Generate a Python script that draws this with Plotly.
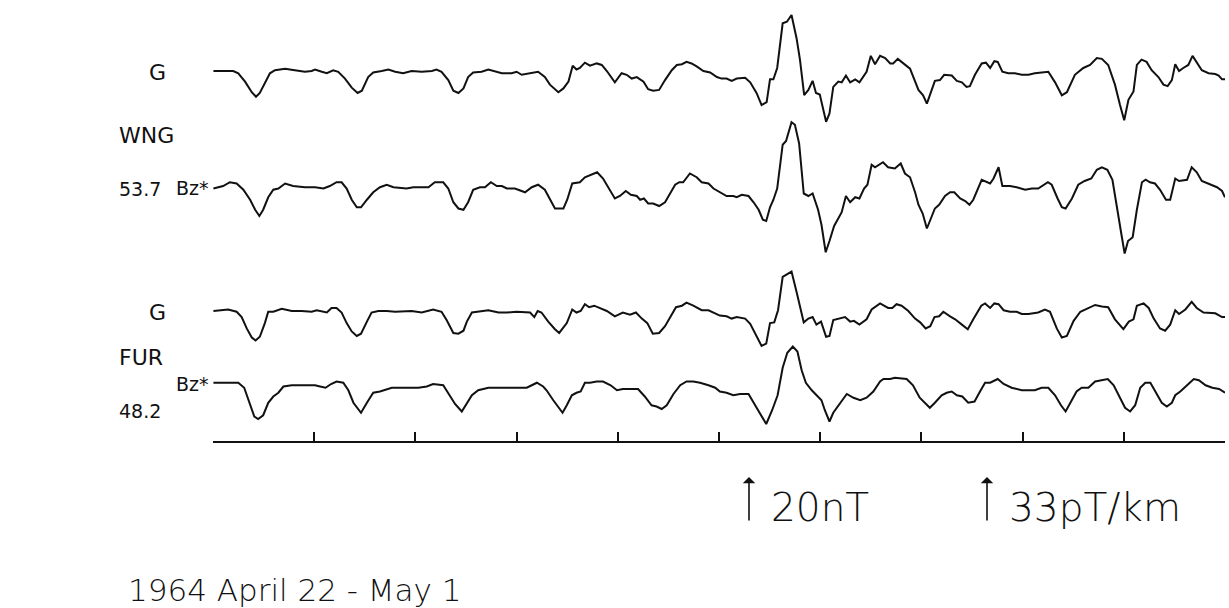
import plotly.graph_objects as go

# time in hours from 1964-04-22 00:00 UT; values: G in pT/km, Bz* in nT (relative units as plotted)
wng_g_t = [0.1,4.8,6.0,7.6,9.2,10.2,11.1,12.3,13.5,14.7,17.1,19.4,21.8,23.4,24.2,25.8,27.0,28.5,29.7,31.3,32.9,34.3,35.3,36.8,38.0,40.0,41.6,43.2,45.1,47.1,49.5,51.9,53.0,54.2,55.8,57.0,58.2,59.4,60.5,61.7,63.7,65.3,66.9,68.5,70.8,72.0,73.2,75.2,77.1,
           78.7,79.9,81.9,83.1,84.3,85.3,86.2,87.0,88.2,89.4,91.0,92.2,93.4,95.3,96.9,98.1,99.3,100.5,102.1,103.2,104.4,105.8,107.2,108.8,110.0,111.2,112.3,113.5,114.7,116.3,117.9,119.5,120.6,121.8,123.0,124.2,126.2,127.4,128.9,130.1,131.3,132.1,132.9,133.8,135.1,136.1,137.2,138.4,139.2,140.2,141.2,142.2,143.0,143.9,145.4,146.2,147.1,148.3,149.1,150.1,151.1,152.3,153.3,154.2,155.0,156.0,157.0,
           158.2,159.4,160.6,161.3,162.4,163.7,165.3,167.3,168.4,169.3,171.2,172.4,173.4,175.2,176.4,177.6,178.7,179.5,180.7,182.3,183.3,184.3,185.3,186.1,187.2,188.6,190.2,191.8,193.4,194.9,196.5,198.1,199.7,201.3,202.5,204.4,206.4,208.0,209.6,210.8,212.3,213.9,215.1,216.1,217.1,218.3,219.1,220.2,221.4,222.6,224.2,225.4,226.4,227.4,228.2,229.1,230.1,231.3,232.3,233.3,234.5,236.1,237.7,238.5,239.3,240.0]
wng_g_v = [0,0,-3,-14,-28,-34,-29,-16,-3,1,3,1,-1,0,2,-1,-3,1,-1,-10,-22,-29,-26,-8,-2,0,2,-1,-3,0,-1,0,2,-1,-12,-26,-29,-23,-8,-2,-1,2,0,-3,-3,-1,-5,-3,-1,
           -8,-18,-28,-23,-14,7,2,4,11,7,10,8,0,-15,-3,-5,-10,-8,-14,-24,-26,-25,-12,1,8,9,12,10,6,0,-2,-8,-10,-10,-13,-10,-9,-15,-29,-45,-41,-11,-11,4,63,65,74,43,15,-32,-25,-13,-29,-31,-67,-56,-21,-14,-15,-6,-15,-11,-15,-7,-1,20,9,
           20,17,10,10,16,10,3,-25,-32,-43,-13,-12,-5,-6,-13,-15,-21,-20,-5,10,11,4,13,12,-1,-3,-3,-5,-5,-3,-2,-1,-15,-32,-28,-5,4,8,17,16,8,-18,-45,-65,-38,-27,8,15,12,1,-8,-18,-20,-12,9,0,4,8,20,11,1,-3,-4,-6,-11,-11]

wng_bz_t = [0.1,1.3,2.4,4.0,5.6,7.2,8.8,10.0,11.0,11.9,13.1,14.3,15.5,17.1,19.0,21.8,24.2,26.2,27.7,29.3,30.5,31.7,32.9,34.1,35.1,36.5,38.0,39.6,41.2,42.8,45.9,47.5,51.1,52.6,54.6,55.8,57.0,58.2,59.4,60.5,61.7,63.3,64.5,65.9,67.3,68.5,69.7,71.6,74.0,75.6,77.1,
            78.7,79.9,81.1,83.1,84.0,85.2,87.0,88.2,89.8,91.1,92.5,94.1,95.3,96.5,97.9,99.1,100.5,101.3,102.2,103.2,104.4,105.8,107.2,108.4,109.6,110.6,111.5,113.1,114.7,115.9,117.5,118.7,120.2,121.8,123.4,124.2,125.4,127.0,128.2,129.4,130.4,131.2,132.1,132.9,133.8,135.1,135.9,137.2,138.0,139.0,140.1,141.2,142.2,143.5,144.3,145.3,146.2,147.3,149.1,150.1,151.1,152.3,153.3,154.4,155.2,156.2,157.0,
            158.9,160.1,161.7,163.1,164.1,165.3,166.5,167.3,168.3,169.3,170.3,171.2,172.2,173.6,174.8,175.8,177.2,178.4,179.4,180.3,182.3,184.3,185.1,186.3,187.2,189.0,190.6,192.6,194.2,195.7,198.0,198.9,200.3,201.3,202.2,203.7,205.2,206.7,208.3,209.6,210.8,212.1,213.3,214.4,215.4,216.2,217.0,218.1,219.1,220.3,221.2,222.2,223.4,224.6,226.0,227.0,228.2,229.1,231.0,232.1,233.3,234.5,236.1,238.1,239.3,240.0]
wng_bz_v = [-2,-1,0,3,2,-3,-11,-19,-24,-19,-9,-3,-2,2,0,-1,-1,-2,0,3,3,-2,-11,-17,-17,-11,-5,-1,1,-1,-2,-1,-1,3,3,-2,-13,-18,-19,-13,-3,-1,-1,3,0,0,-2,-2,-5,-1,1,
            -3,-11,-18,-18,-11,2,3,7,9,11,6,-3,-10,-8,-4,-7,-8,-11,-10,-14,-14,-16,-13,-6,1,3,3,10,7,3,2,-2,-5,-8,-8,-9,-7,-8,-13,-19,-27,-28,-17,-11,-2,33,36,51,49,34,-6,-8,-6,-19,-31,-53,-44,-32,-21,-8,-13,-9,-10,-2,1,17,15,
            19,15,14,18,10,7,-5,-15,-22,-34,-25,-18,-15,-8,-5,-5,-10,-12,-15,-11,5,2,6,15,0,0,-1,-3,-2,-2,3,1,-10,-17,-18,-10,1,4,6,13,15,13,5,-19,-38,-54,-44,-41,-19,3,5,3,2,-3,-11,-11,6,4,5,15,11,4,2,-1,-4,-9]

fur_g_t = [0.1,3.6,5.6,6.8,8.0,9.2,10.1,11.1,12.3,13.1,14.3,16.3,18.7,21.0,23.4,24.6,27.0,28.1,29.3,30.5,31.7,32.9,34.1,35.1,36.5,37.6,39.2,41.2,43.2,45.5,47.1,49.5,52.2,54.2,55.4,57.0,58.2,59.4,60.2,61.4,62.9,65.3,67.7,69.7,72.0,75.2,76.2,77.0,77.9,
           79.5,81.1,82.1,83.9,85.2,86.2,87.2,88.2,89.2,90.4,91.8,93.4,95.3,97.2,98.9,100.3,101.7,103.0,104.3,105.8,107.2,108.5,109.8,111.2,112.3,113.9,115.9,117.5,118.7,120.2,121.8,123.0,124.2,126.2,127.4,128.8,130.1,131.2,132.1,133.1,134.0,135.1,136.1,137.2,138.4,139.2,140.1,141.2,142.2,143.1,144.2,145.4,146.2,147.1,148.3,149.9,151.1,152.0,153.3,155.0,156.2,
           158.2,160.1,161.1,162.1,163.3,164.9,166.5,167.7,169.0,170.1,171.1,172.2,173.2,174.8,176.0,177.6,179.0,180.3,182.2,183.1,184.3,185.3,186.3,187.5,189.0,190.6,191.8,193.4,195.7,197.3,198.5,200.1,201.3,202.5,204.1,205.7,207.3,209.2,210.8,212.3,213.9,215.9,217.2,218.3,219.1,220.7,221.9,223.1,224.6,225.8,227.0,228.2,229.1,230.6,232.1,233.3,234.9,236.5,237.7,239.3,240.0]
fur_g_v = [0,2,-1,-8,-23,-35,-39,-34,-16,-1,-1,3,0,0,-1,1,-2,4,4,-2,-16,-27,-33,-30,-14,-2,0,0,-1,0,0,-2,2,-1,-12,-29,-30,-26,-14,-2,-1,1,-2,-2,-1,-2,-8,0,-2,
           -14,-24,-29,-16,2,-2,0,9,5,7,4,0,-7,-2,-5,-2,-10,-16,-30,-29,-20,-8,5,7,11,7,1,1,-2,-6,-7,-10,-8,-10,-17,-32,-46,-43,-16,-15,1,45,48,52,25,6,-15,-10,-8,-18,-14,-34,-33,-12,-10,-8,-14,-13,-18,-11,2,
           10,4,4,9,7,0,-10,-15,-23,-20,-8,-7,-1,-7,-11,-18,-24,-11,7,10,4,10,9,1,-1,-1,-4,-4,-2,2,-1,-23,-35,-33,-13,-1,3,8,6,5,-11,-24,-14,-11,7,10,4,-10,-23,-26,-18,1,-4,2,12,4,-2,-3,-3,-8,-8]

fur_bz_t = [0.1,3.2,4.4,6.0,7.4,8.6,9.8,10.7,11.9,13.1,14.3,15.5,16.7,18.7,21.8,24.2,25.4,26.7,28.0,29.3,30.9,32.1,33.3,35.1,36.5,38.0,39.6,42.4,45.5,48.7,50.7,52.2,54.6,55.8,57.4,59.0,60.2,61.4,62.9,65.3,69.2,74.4,75.6,76.8,
            78.3,79.1,80.7,81.9,82.9,83.9,85.1,86.2,87.2,88.2,89.4,91.0,92.5,94.3,95.8,97.2,100.8,102.4,104.0,105.2,106.4,107.6,109.2,110.8,112.3,113.9,115.5,117.5,119.1,120.2,121.8,123.4,125.0,127.0,128.2,129.8,131.2,132.6,133.9,135.1,136.2,137.5,138.6,139.6,140.6,142.0,143.1,144.3,145.1,146.2,147.1,148.3,150.3,151.9,153.5,155.0,156.6,158.2,
            159.0,160.6,161.7,164.5,166.0,167.6,168.8,170.0,171.2,172.8,174.0,175.2,176.4,177.7,179.1,180.6,181.9,183.1,184.3,186.1,187.5,189.4,191.8,194.9,196.5,198.1,199.7,201.1,202.2,203.7,204.8,206.0,207.6,209.2,210.8,212.2,213.6,215.1,216.3,217.5,218.7,219.9,221.1,222.3,223.6,225.0,226.2,227.4,228.2,229.4,231.0,232.6,233.8,235.4,237.0,238.6,240.0]
fur_bz_v = [1,1,1,1,-3,-15,-26,-28,-25,-15,-10,-7,-2,-1,-1,-1,-2,-3,0,2,1,-5,-15,-23,-15,-7,-6,-3,-3,-3,-2,0,-1,-7,-16,-22,-16,-9,-5,-3,-3,-3,-1,1,
            -2,-5,-13,-19,-23,-17,-9,-7,-6,1,1,2,2,-1,-5,-4,-4,-10,-17,-18,-20,-17,-8,-1,2,2,1,-1,-3,-6,-7,-9,-8,-8,-15,-25,-32,-21,-9,13,25,30,26,11,1,-5,-9,-13,-21,-30,-23,-17,-8,-11,-13,-11,-6,2,
            4,4,5,4,-1,-11,-15,-19,-15,-9,-7,-6,-9,-10,-15,-14,-6,1,1,4,0,-3,-5,-5,-3,-3,-9,-17,-22,-13,-6,-3,-3,2,3,4,-1,-11,-19,-22,-17,-3,1,1,-7,-15,-18,-15,-9,-6,-1,4,3,-1,-3,-4,-7]

row_labels = ["G", "Bz*", "G", "Bz*"]
station_names = ["WNG", "FUR"]
station_lats = ["53.7", "48.2"]
scale_labels = ["20nT", "33pT/km"]
title_text = "1964 April 22 - May 1"
day_ticks = [0, 24, 48, 72, 96, 120, 144, 168, 192, 216, 240]

W, H = 1229, 608
FONT = "DejaVu Sans"
INK = "#111111"

# layout: trace baselines (pixel rows from top) and display scale (px per unit)
rows = [
    (wng_g_t, wng_g_v, 71, 25 / 33),
    (wng_bz_t, wng_bz_v, 186, 25 / 20),
    (fur_g_t, fur_g_v, 311, 25 / 33),
    (fur_bz_t, fur_bz_v, 384, 25 / 20),
]

fig = go.Figure()
for t, v, base, k in rows:
    fig.add_trace(go.Scatter(
        x=t, y=[base - val * k for val in v], mode="lines",
        line=dict(color=INK, width=2), hoverinfo="skip", showlegend=False))

def px(x):
    return x / W

def py(y):
    return 1 - y / H

ann = []
def text(s, x, y, size, xanchor="left", weight=200):
    ann.append(dict(text=s, x=px(x), y=py(y), xref="paper", yref="paper",
                    xanchor=xanchor, yanchor="middle", showarrow=False,
                    font=dict(family=FONT, size=size, color=INK, weight=weight)))

text(row_labels[0], 157, 72, 22, "center", 400)
text(station_names[0], 117, 135, 22, weight=400)
text(station_lats[0], 117, 189, 19, weight=400)
text(row_labels[1], 174, 188, 19, weight=400)
text(row_labels[2], 157, 312, 22, "center", 400)
text(station_names[1], 117, 357, 22, weight=400)
text(station_lats[1], 117, 411, 19, weight=400)
text(row_labels[3], 174, 384, 19, weight=400)
text(scale_labels[0], 769, 507, 39)
text(scale_labels[1], 1007, 507, 39)
text(title_text, 126, 590, 31)

for xa in (749, 987):
    ann.append(dict(x=px(xa), y=py(477), ax=0, ay=45, xref="paper", yref="paper",
                    axref="pixel", ayref="pixel", text="", showarrow=True,
                    arrowhead=1, arrowsize=1.3, arrowwidth=1.6, arrowcolor=INK))

fig.update_layout(
    width=W, height=H, margin=dict(l=0, r=0, t=0, b=0),
    paper_bgcolor="white", plot_bgcolor="white",
    xaxis=dict(domain=[213 / W, 1225 / W], range=[0, 240], tickvals=day_ticks,
               ticks="inside", ticklen=9, tickwidth=1.6, tickcolor=INK,
               showticklabels=False, showgrid=False, zeroline=False,
               showline=True, linecolor=INK, linewidth=1.6,
               anchor="free", position=py(442)),
    yaxis=dict(domain=[0, 1], range=[H, 0], visible=False, showgrid=False, zeroline=False),
    annotations=ann,
)
fig.write_html("out.html", config={"displayModeBar": False},
               post_script="document.body.style.margin='0';document.body.style.padding='0';")
